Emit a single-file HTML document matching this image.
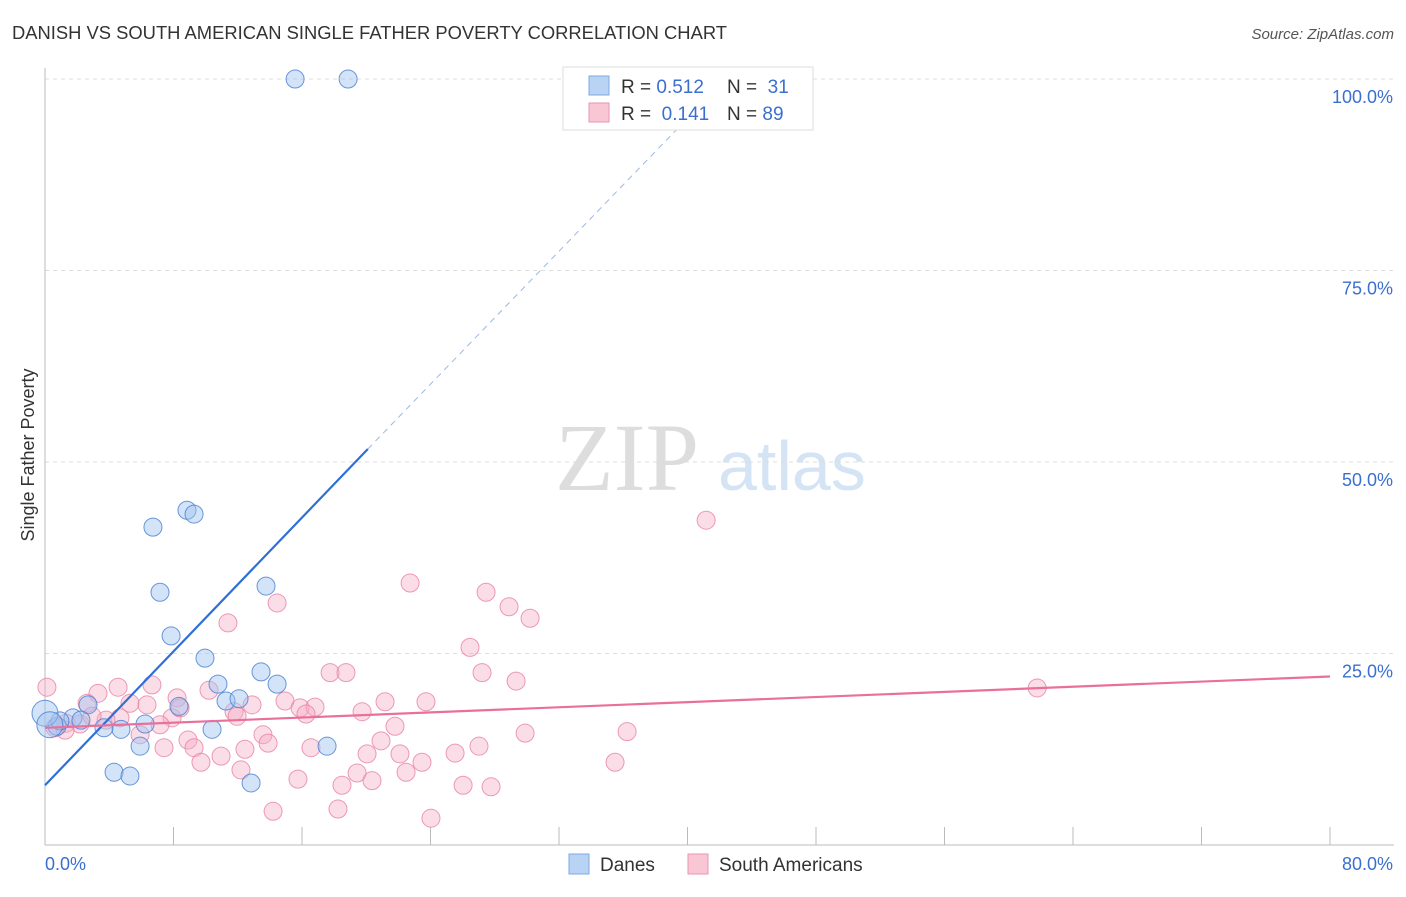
<!DOCTYPE html>
<html><head><meta charset="utf-8"><style>
body{margin:0;background:#fff;font-family:"Liberation Sans",sans-serif;}
</style></head><body>
<svg id="chart" width="1406" height="892" xmlns="http://www.w3.org/2000/svg" font-family="Liberation Sans, sans-serif">
<text x="12" y="39" font-size="18" fill="#333" textLength="715" lengthAdjust="spacingAndGlyphs">DANISH VS SOUTH AMERICAN SINGLE FATHER POVERTY CORRELATION CHART</text>
<text x="1394" y="39" font-size="15" fill="#555" text-anchor="end" font-style="italic">Source: ZipAtlas.com</text>
<text x="34" y="455" font-size="18" fill="#333" text-anchor="middle" transform="rotate(-90 34 455)">Single Father Poverty</text>
<g><text x="555" y="490" font-size="96" fill="#ddd" style="font-family:'Liberation Serif',serif">ZIP</text><text x="718" y="490" font-size="70" fill="#d4e4f5">atlas</text></g>
<g id="grid"></g>
<g id="axes"></g>
<g id="marks"></g>
<g>
<rect x="563" y="67" width="250" height="63" fill="#fff" stroke="#ddd"/>
<rect x="589" y="76" width="20" height="19" fill="#b9d3f4" stroke="#7fa9e0"/>
<rect x="589" y="103" width="20" height="19" fill="#f9c6d5" stroke="#e796b0"/>
<text x="621" y="93" font-size="19" fill="#333">R = <tspan fill="#3a6fd0">0.512</tspan></text>
<text x="727" y="93" font-size="19" fill="#333">N = <tspan fill="#3a6fd0">&#160;31</tspan></text>
<text x="621" y="120" font-size="19" fill="#333">R = <tspan fill="#3a6fd0">&#160;0.141</tspan></text>
<text x="727" y="120" font-size="19" fill="#333">N = <tspan fill="#3a6fd0">89</tspan></text>
</g>
<g>
<rect x="569" y="854" width="20" height="20" fill="#b9d3f4" stroke="#7fa9e0"/>
<text x="600" y="871" font-size="19" fill="#333">Danes</text>
<rect x="688" y="854" width="20" height="20" fill="#f9c6d5" stroke="#e796b0"/>
<text x="719" y="871" font-size="19" fill="#333">South Americans</text>
</g>
</svg>
<script>
const xTicks=[0,8,16,24,32,40,48,56,64,72,80];
const yTicks=[25,50,75,100];
const yTickLabels=["25.0%","50.0%","75.0%","100.0%"];
const xEndLabels=["0.0%","80.0%"];
const danesX=[15.57,18.87,8.84,9.28,6.72,7.16,13.76,7.85,9.96,13.45,14.45,10.77,8.34,11.27,12.08,2.68,1.74,2.24,6.23,10.4,4.73,3.67,0.75,0.93,5.92,17.56,4.3,5.29,12.83,0,0.3];
const danesY=[100,100,43.7,43.2,41.5,33.0,33.8,27.3,24.4,22.6,21.0,21.0,18.1,18.8,19.1,18.3,16.6,16.3,15.8,15.1,15.1,15.3,15.5,16.2,12.9,12.9,9.5,9.0,8.1,17.2,15.7];
const saX=[41.16,22.73,27.46,28.89,30.2,14.45,11.39,26.46,17.75,18.74,27.21,29.33,61.77,0.12,6.66,4.55,3.3,10.21,8.22,2.62,5.29,6.35,12.89,14.94,15.88,16.81,21.17,23.72,11.77,7.91,11.96,4.67,3.8,1.31,2.18,7.16,21.79,16.25,19.74,5.92,8.9,13.57,13.89,20.92,29.89,36.24,7.41,9.28,12.45,10.96,16.56,20.05,22.1,25.53,27.02,9.71,35.49,23.47,22.48,19.43,15.75,12.2,20.36,18.49,26.03,27.77,14.2,18.24,24.03,1.25,0.62,2.93,8.41];
const saY=[42.4,34.2,33.0,31.1,29.6,31.6,29.0,25.8,22.5,22.5,22.5,21.4,20.5,20.6,20.9,20.6,19.8,20.2,19.2,18.5,18.5,18.3,18.3,18.8,17.9,18.0,18.7,18.7,17.4,16.6,16.8,16.6,16.3,15.9,15.8,15.7,15.5,17.1,17.4,14.4,13.7,14.4,13.3,13.6,14.6,14.8,12.7,12.7,12.5,11.6,12.7,11.9,11.9,12.0,12.9,10.8,10.8,10.8,9.5,9.4,8.6,9.8,8.4,7.8,7.8,7.6,4.4,4.7,3.5,15.0,15.3,16.8,17.9];
const danesTrend=[[0,7.8],[20.1,51.7],[40.2,95.3]];
const saTrend=[[0,15.3],[80,22.0]];
const NS="http://www.w3.org/2000/svg";
const xs=v=>45+v*16.0625;
const ys=v=>845-v*7.66;
function mk(tag,attrs,parent){const e=document.createElementNS(NS,tag);for(const k in attrs)e.setAttribute(k,attrs[k]);parent.appendChild(e);return e;}
const grid=document.getElementById('grid'),axes=document.getElementById('axes'),marks=document.getElementById('marks');
yTicks.forEach((t,i)=>{
 const l=mk('line',{x1:45,x2:1394,y1:ys(t),y2:ys(t),stroke:'#ddd','stroke-dasharray':'4 4'},grid);
 
 
 const tx=mk('text',{x:1393,y:ys(t)+24,'font-size':18,fill:'#3a6fd0','text-anchor':'end'},axes);tx.textContent=yTickLabels[i];
 
 
});
mk('line',{x1:45,x2:1394,y1:845,y2:845,stroke:'#bbb'},axes);
mk('line',{x1:45,x2:45,y1:68,y2:845,stroke:'#bbb'},axes);
xTicks.forEach(t=>{const l=mk('line',{x1:xs(t),x2:xs(t),y1:827,y2:845,stroke:'#bbb'},axes);
 
 });
const a=mk('text',{x:45,y:870,'font-size':18,fill:'#3a6fd0'},axes);a.textContent=xEndLabels[0];


const b=mk('text',{x:1393,y:870,'font-size':18,fill:'#3a6fd0','text-anchor':'end'},axes);b.textContent=xEndLabels[1];


saX.forEach((x,i)=>{const c=mk('circle',{cx:xs(x),cy:ys(saY[i]),r:9,fill:'rgba(246,170,195,0.4)',stroke:'rgba(232,130,165,0.8)','stroke-width':1},marks);
 
 });
danesX.forEach((x,i)=>{const c=mk('circle',{cx:xs(x),cy:ys(danesY[i]),r:(i>=29?13:9),fill:'rgba(160,195,240,0.45)',stroke:'rgba(70,125,210,0.8)','stroke-width':1},marks);
 
 });
const t1=mk('line',{x1:xs(danesTrend[0][0]),y1:ys(danesTrend[0][1]),x2:xs(danesTrend[1][0]),y2:ys(danesTrend[1][1]),stroke:'#2f6fd6','stroke-width':2.2},marks);


const t2=mk('line',{x1:xs(danesTrend[1][0]),y1:ys(danesTrend[1][1]),x2:xs(danesTrend[2][0]),y2:ys(danesTrend[2][1]),stroke:'#9bb8e6','stroke-width':1,'stroke-dasharray':'6 5'},marks);


const t3=mk('line',{x1:xs(saTrend[0][0]),y1:ys(saTrend[0][1]),x2:xs(saTrend[1][0]),y2:ys(saTrend[1][1]),stroke:'#e8709a','stroke-width':2.2},marks);


</script>
</body></html>
